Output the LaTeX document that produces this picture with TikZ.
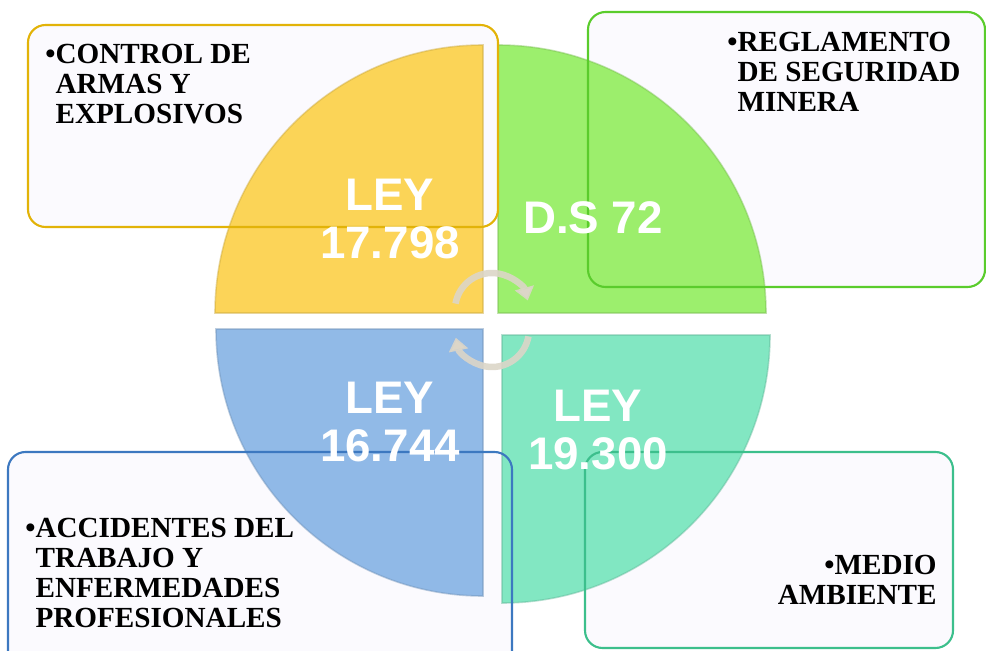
\documentclass[tikz,border=0pt]{standalone}
\usepackage{fontspec}
\setmainfont{Liberation Serif}
\newfontfamily\lawfont{Liberation Sans}
\usetikzlibrary{arrows.meta}

\definecolor{boxfill}{HTML}{FBFAFE}
\definecolor{yellowq}{HTML}{FCD24F}
\definecolor{greenq}{HTML}{97EE65}
\definecolor{blueq}{HTML}{8BB6E6}
\definecolor{tealq}{HTML}{7BE6BF}
\definecolor{yellowedge}{HTML}{E2B308}
\definecolor{greenedge}{HTML}{5ACC2C}
\definecolor{blueedge}{HTML}{3C78C0}
\definecolor{tealedge}{HTML}{3CBF8C}
\definecolor{turncol}{HTML}{DCD6C8}

\tikzset{
	panel/.style={fill=boxfill, rounded corners=0.35cm},
	panelline/.style={draw=#1, line width=1.2pt, rounded corners=0.35cm},
	quarter/.style={fill=#1, fill opacity=0.95, draw=#1!80!black, draw opacity=0.45, line width=0.9pt},
	lawtext/.style={text=white, font=\lawfont\bfseries\fontsize{26}{27.5}\selectfont, align=center},
	itemtext/.style={font=\bfseries\fontsize{16.6}{17.1}\selectfont, inner sep=0pt},
	turn/.style={draw=turncol, draw opacity=0.9, line width=0.13cm, -{Triangle[length=0.26cm, width=0.38cm]}}
}

\begin{document}
\begin{tikzpicture}[x=0.02cm, y=0.02cm]
	\useasboundingbox (0,0) rectangle (986,650);
	\clip (0,0) rectangle (986,650);
	% text boxes behind the circle
	\path[panel] (28,423) rectangle (498,625);
	\path[panel] (588,363) rectangle (985,638);
	\path[panel] (8,-30) rectangle (512,198);
	\path[panel] (585,2) rectangle (953,198);
	% four quarters
	\draw[quarter=yellowq] (483,337) -- (215,337) arc (180:90:268) -- cycle;
	\draw[quarter=greenq] (498,337) -- (498,605) arc (90:0:268) -- cycle;
	\draw[quarter=blueq] (483,321) -- (483,54) arc (270:180:267) -- cycle;
	\draw[quarter=tealq] (502,315) -- (770,315) arc (0:-90:268) -- cycle;
	% box outlines on top
	\draw[panelline=yellowedge] (28,423) rectangle (498,625);
	\draw[panelline=greenedge] (588,363) rectangle (985,638);
	\draw[panelline=blueedge] (8,-30) rectangle (512,198);
	\draw[panelline=tealedge] (585,2) rectangle (953,198);
	% laws
	\node[lawtext] (ley17798) at (390,431) {LEY\\17.798};
	\node[lawtext] (ds72) at (593,432) {D.S 72};
	\node[lawtext] (ley16744) at (390,228) {LEY\\16.744};
	\node[lawtext] (ley19300) at (598,220) {LEY\\19.300};
	% cycle arrows
	\coordinate (hub) at (492,330);
	\draw[turn] ([shift={(170:37)}]hub) ++(0,10) arc (170:15:37);
	\draw[turn] ([shift={(-10:37)}]hub) ++(0,-10) arc (-10:-168:37);
	% topics
	\node[itemtext, anchor=north west, align=left] (armas) at (45,606)
		{\textbullet CONTROL DE\\\phantom{\textbullet}ARMAS Y\\\phantom{\textbullet}EXPLOSIVOS};
	\node[itemtext, anchor=north west, align=left] (mineria) at (727,618)
		{\textbullet REGLAMENTO\\\phantom{\textbullet}DE SEGURIDAD\\\phantom{\textbullet}MINERA};
	\node[itemtext, anchor=north west, align=left] (accidentes) at (25,132)
		{\textbullet ACCIDENTES DEL\\\phantom{\textbullet}TRABAJO Y\\\phantom{\textbullet}ENFERMEDADES\\\phantom{\textbullet}PROFESIONALES};
	\node[itemtext, anchor=north east, align=right] (ambiente) at (937,95)
		{\textbullet MEDIO\\AMBIENTE};
\end{tikzpicture}
\end{document}
